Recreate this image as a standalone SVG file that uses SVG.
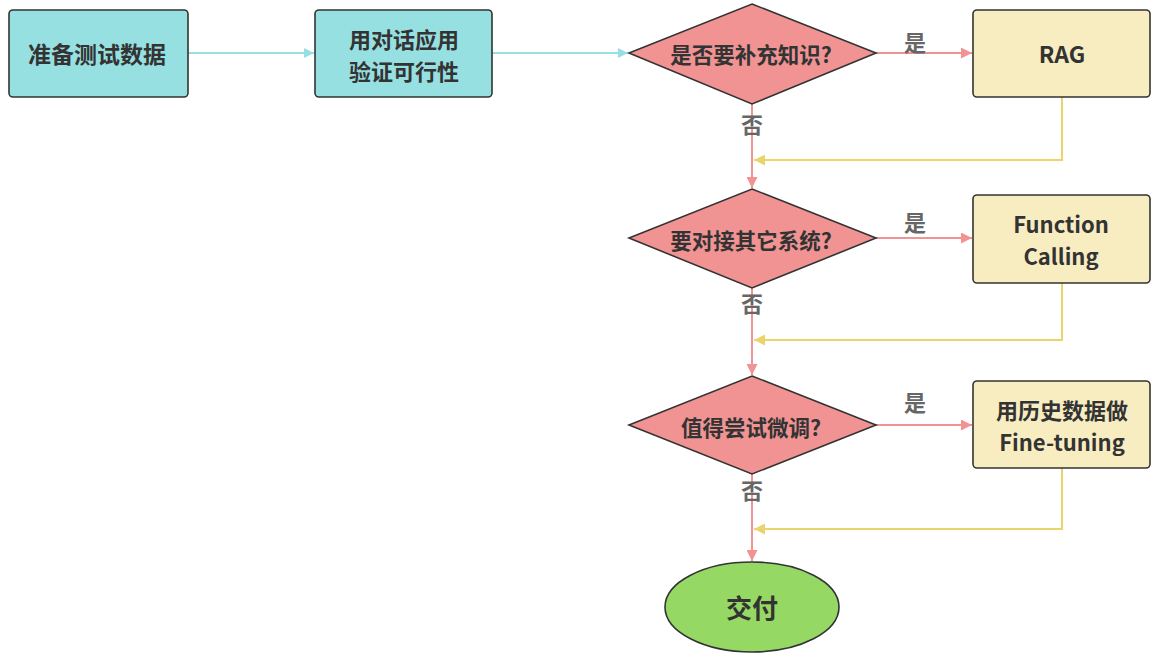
<svg xmlns="http://www.w3.org/2000/svg" width="1170" height="662" viewBox="0 0 1170 662">
<defs>
<marker id="ac" viewBox="0 0 10 10" refX="10" refY="5" markerWidth="10" markerHeight="10" markerUnits="userSpaceOnUse" orient="auto"><path d="M0,0 L10,5 L0,10 z" fill="#97dfe2"/></marker>
<marker id="ap" viewBox="0 0 10 10" refX="10" refY="5" markerWidth="11" markerHeight="11" markerUnits="userSpaceOnUse" orient="auto"><path d="M0,0 L10,5 L0,10 z" fill="#f19393"/></marker>
<marker id="ay" viewBox="0 0 10 10" refX="10" refY="5" markerWidth="11" markerHeight="11" markerUnits="userSpaceOnUse" orient="auto"><path d="M0,0 L10,5 L0,10 z" fill="#ebd46c"/></marker>
</defs>
<style>
text{font-family:"Noto Sans CJK SC","Noto Sans","Open Sans",sans-serif;font-weight:bold;fill:#333;text-anchor:middle;dominant-baseline:central}
.c{fill:#96e0e1;stroke:#333;stroke-width:1.6}
.d{fill:#f19393;stroke:#333;stroke-width:1.6}
.y{fill:#f7edc1;stroke:#333;stroke-width:1.6}
.g{fill:#95d863;stroke:#333;stroke-width:1.6}
.t{font-size:23px}
.m{font-size:22px}
.s{font-size:21.5px}
.l{font-size:22px;fill:#666}
.lc{fill:none;stroke:#97dfe2;stroke-width:2}
.lp{fill:none;stroke:#f19393;stroke-width:2}
.ly{fill:none;stroke:#ebd46c;stroke-width:2}
</style>
<rect width="1170" height="662" fill="#fff"/>
<g id="connectors">
<path class="lc" d="M188,53 H314" marker-end="url(#ac)"/>
<path class="lc" d="M492,53 H628" marker-end="url(#ac)"/>
<path class="lp" d="M876,53 H972" marker-end="url(#ap)"/>
<path class="lp" d="M752,104 V188" marker-end="url(#ap)"/>
<path class="ly" d="M1062,97 V160 H754" marker-end="url(#ay)"/>
<path class="lp" d="M876,238 H972" marker-end="url(#ap)"/>
<path class="lp" d="M752,288 V375" marker-end="url(#ap)"/>
<path class="ly" d="M1062,283 V340 H754" marker-end="url(#ay)"/>
<path class="lp" d="M876,425 H972" marker-end="url(#ap)"/>
<path class="lp" d="M752,474 V561" marker-end="url(#ap)"/>
<path class="ly" d="M1062,468 V529 H754" marker-end="url(#ay)"/>
<text class="l" x="915" y="41">是</text>
<text class="l" x="752" y="123">否</text>
<text class="l" x="915" y="221">是</text>
<text class="l" x="752" y="302">否</text>
<text class="l" x="915" y="401">是</text>
<text class="l" x="752" y="489">否</text>
</g>
<g id="n1"><rect class="c" x="9" y="10" width="179" height="87" rx="4"/><text class="t" x="97" y="53">准备测试数据</text></g>
<g id="n2"><rect class="c" x="315" y="10" width="177" height="87" rx="4"/><text class="m" x="404" y="38">用对话应用</text><text class="m" x="404" y="70">验证可行性</text></g>
<g id="d1"><polygon class="d" points="752,4 876,53 752,104 629,53"/><text class="s" x="751" y="53">是否要补充知识?</text></g>
<g id="r1"><rect class="y" x="973" y="10" width="177" height="87" rx="4"/><text class="t" x="1062" y="53">RAG</text></g>
<g id="d2"><polygon class="d" points="752,189 876,238 752,288 629,238"/><text class="s" x="751" y="239">要对接其它系统?</text></g>
<g id="r2"><rect class="y" x="973" y="195" width="177" height="88" rx="4"/><text class="m" x="1061" y="223">Function</text><text class="m" x="1061" y="255">Calling</text></g>
<g id="d3"><polygon class="d" points="752,376 876,425 752,474 629,425"/><text class="s" x="751" y="426">值得尝试微调?</text></g>
<g id="r3"><rect class="y" x="973" y="381" width="177" height="87" rx="4"/><text class="m" x="1062" y="409">用历史数据做</text><text class="m" x="1062" y="441">Fine-tuning</text></g>
<g id="end"><ellipse class="g" cx="752" cy="607" rx="87" ry="45"/><text class="t" x="752" y="606" style="font-size:26px">交付</text></g>
</svg>
